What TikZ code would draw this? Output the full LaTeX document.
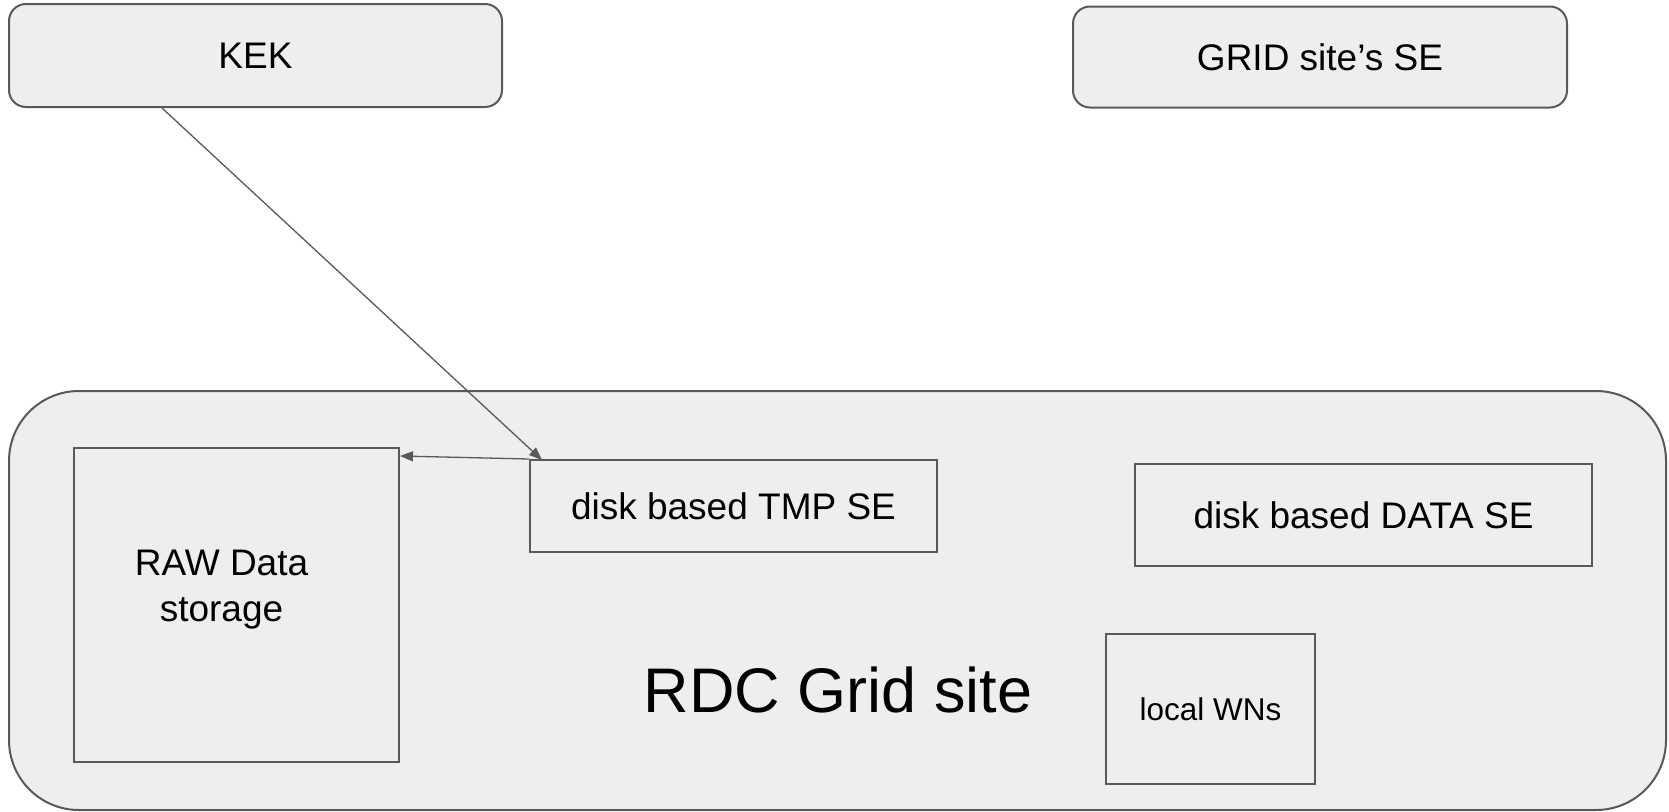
\documentclass[tikz,border=0pt]{standalone}
\usepackage{fontspec}
\setmainfont{Liberation Sans}
\usetikzlibrary{arrows.meta}
\definecolor{boxfill}{HTML}{EEEEEE}
\definecolor{boxline}{HTML}{595959}
\tikzset{
  roundbox/.style={draw=boxline, fill=boxfill, line width=2pt, rounded corners=17pt, inner sep=0pt, font=\fontsize{37}{44}\selectfont},
  plainbox/.style={draw=boxline, fill=boxfill, line width=2pt, inner sep=0pt, font=\fontsize{37}{44}\selectfont},
  conn/.style={draw=boxline, line width=1.3pt, -{Triangle[length=13pt,width=10pt]}},
}
\begin{document}
\begin{tikzpicture}[x=1pt,y=-1pt]
\useasboundingbox[fill=white] (0,0) rectangle (1669,811);
% top boxes
\node[roundbox, minimum width=493pt, minimum height=103pt] (kek) at (255.5,55.5) {KEK};
\node[roundbox, minimum width=494pt, minimum height=101pt] (grid) at (1320,57) {GRID site’s SE};
% big site container
\node[draw=boxline, fill=boxfill, line width=2pt, rounded corners=70pt, minimum width=1657pt, minimum height=419pt, inner sep=0pt] (site) at (837.5,600.5) {};
\node[font=\fontsize{63}{70}\selectfont] (sitelabel) at (838,690) {RDC Grid site};
% inner boxes
\node[plainbox, minimum width=325pt, minimum height=314pt] (raw) at (236.5,605) {};
\node[font=\fontsize{37}{46}\selectfont, align=center] (rawlabel) at (221.5,590) {RAW Data\\storage};
\node[plainbox, minimum width=407pt, minimum height=92pt] (tmp) at (733.5,506) {disk based TMP SE};
\node[plainbox, minimum width=457pt, minimum height=102pt] (data) at (1363.5,515) {disk based DATA SE};
\node[plainbox, minimum width=209pt, minimum height=150pt, font=\fontsize{31.5}{36}\selectfont] (wn) at (1210.5,709) {local WNs};
% connectors
\draw[conn] ([xshift=154pt]kek.south west) -- ([xshift=13pt,yshift=-1pt]tmp.north west);
\draw[conn] (tmp.north west) -- ([yshift=-9pt]raw.north east);
\end{tikzpicture}
\end{document}
